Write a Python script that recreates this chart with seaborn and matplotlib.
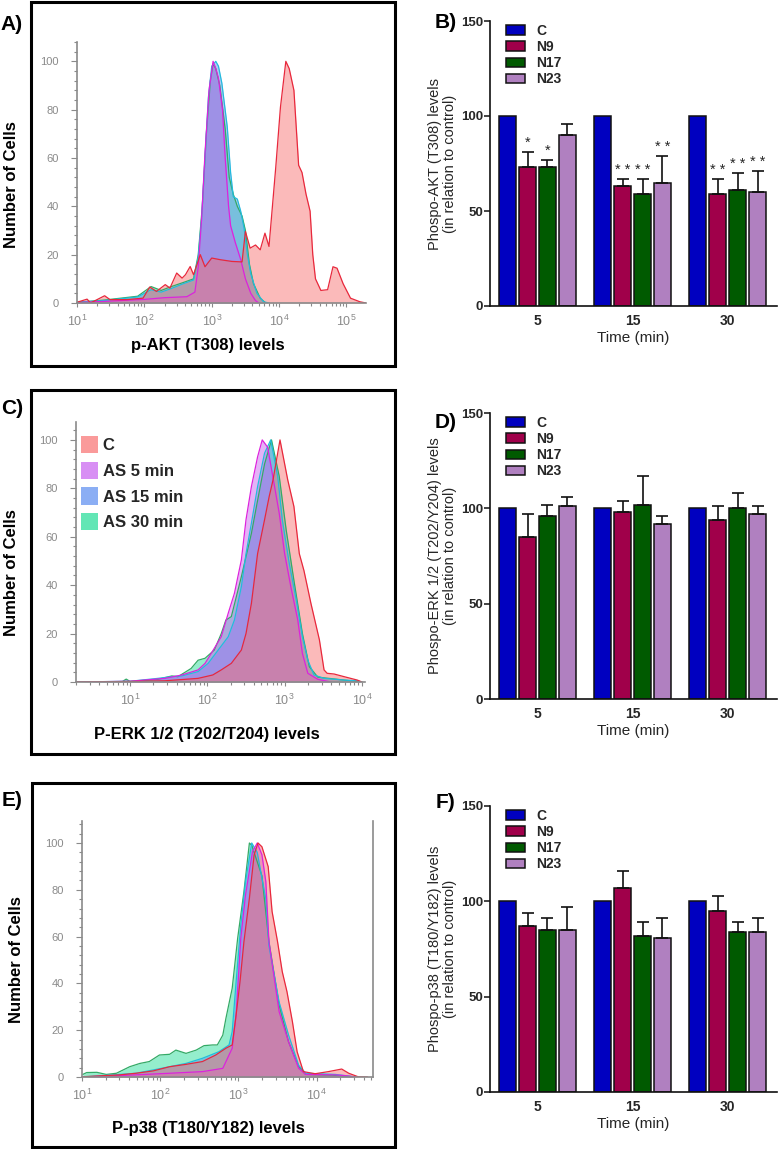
import numpy as np
import pandas as pd
import seaborn as sns
import matplotlib.pyplot as plt
from matplotlib.patches import Patch, Rectangle
from matplotlib.ticker import MultipleLocator, LogLocator, NullFormatter

# ---- histogram data (x = log10 fluorescence, y = % of max) ----
# p-AKT (T308)
akt_c_x = [1.0, 1.15, 1.2, 1.41, 1.49, 1.74, 1.98, 2.08, 2.18, 2.31, 2.38, 2.48, 2.56, 2.61, 2.68, 2.73, 2.83, 2.9, 3.0, 3.13,
           3.3, 3.45, 3.5, 3.57, 3.65, 3.72, 3.79, 3.85, 3.95, 4.02, 4.1, 4.15, 4.22, 4.29, 4.34, 4.4, 4.46, 4.5, 4.54, 4.62,
           4.72, 4.8, 4.86, 4.95, 5.06, 5.2, 5.29]
akt_c_y = [0.3, 1.6, 0, 3, 1.4, 1.4, 2, 6.6, 4.8, 7.6, 6.2, 12.4, 10.3, 11.7, 15.1, 11.7, 20, 15, 18.6, 17.9,
           17.2, 17.0, 29.6, 22.7, 24, 22, 28.9, 23.4, 56, 81, 100, 97, 88, 57, 54, 45, 38, 20, 10, 5.2,
           5.5, 15, 14.4, 8, 2, 0.5, 0]
akt_5_x = [1.0, 1.5, 2.0, 2.3, 2.63, 2.75, 2.8, 2.85, 2.9, 2.96, 3.02, 3.06, 3.1, 3.16, 3.2, 3.25, 3.28, 3.35, 3.43, 3.5, 3.58, 3.65, 3.7]
akt_5_y = [0.2, 0.8, 1.5, 2.2, 2.6, 4.5, 15, 35, 62, 88, 100, 97, 93, 80, 60, 40, 32, 25, 18, 10, 4, 1, 0]
akt_15_x = [1.0, 1.4, 1.9, 2.1, 2.25, 2.4, 2.58, 2.73, 2.8, 2.85, 2.9, 2.95, 3.0, 3.06, 3.1, 3.15, 3.23, 3.28, 3.32, 3.38,
            3.43, 3.48, 3.53, 3.58, 3.67, 3.77, 3.85]
akt_15_y = [0.3, 1.0, 2.5, 5.5, 4.5, 6, 8, 9.5, 19, 35, 60, 85, 98, 100, 98, 91, 73, 54, 44, 43,
            38, 31, 20, 12, 4, 0.5, 0]
akt_30_x = [1.0, 1.4, 1.9, 2.1, 2.25, 2.4, 2.58, 2.73, 2.8, 2.86, 2.92, 2.98, 3.02, 3.06, 3.12, 3.2, 3.26, 3.32, 3.38, 3.45,
            3.5, 3.56, 3.62, 3.72, 3.8]
akt_30_y = [0.3, 1.2, 2.8, 6.8, 5.2, 6.8, 8.5, 10, 20, 40, 70, 92, 99, 97, 90, 72, 52, 45, 40, 36,
            30, 16, 8, 2, 0]

# P-ERK 1/2 (T202/T204)
erk_c_x = [0.3, 1.0, 1.45, 1.88, 2.07, 2.18, 2.31, 2.44, 2.5, 2.57, 2.65, 2.74, 2.8, 2.85, 2.94, 3.04, 3.12, 3.19, 3.25, 3.34,
           3.45, 3.51, 3.55, 3.64, 3.77, 3.94, 4.0]
erk_c_y = [0, 0.2, 0.5, 1.5, 2.9, 5, 7.7, 13.2, 20, 32.5, 53, 67, 76.6, 83.5, 100, 83.5, 72.5, 53, 46, 32.5,
           17.4, 5, 3.6, 3.3, 2.2, 0.8, 0]
erk_5_x = [0.3, 1.0, 1.45, 1.67, 1.88, 1.97, 2.05, 2.18, 2.27, 2.35, 2.44, 2.5, 2.57, 2.65, 2.71, 2.78, 2.87, 2.93, 3.0, 3.08,
           3.17, 3.23, 3.3, 3.43, 3.6]
erk_5_y = [0, 0.3, 1.5, 2.9, 5, 7.7, 11.8, 18.7, 28.4, 36.6, 50.4, 67, 80.7, 93, 100, 97, 80.7, 69.7, 53, 39.4,
           25.6, 11.8, 3.6, 1.1, 0]
erk_15_x = [0.3, 1.0, 1.36, 1.54, 1.67, 1.88, 2.01, 2.14, 2.27, 2.35, 2.44, 2.5, 2.57, 2.65, 2.74, 2.82, 2.91, 2.97, 3.06, 3.15,
            3.23, 3.3, 3.38, 3.51, 3.77, 3.94, 4.0]
erk_15_y = [0, 0.3, 1.5, 2.2, 2.5, 4.3, 7.7, 13.2, 18.7, 25.6, 39.4, 53, 65.6, 80.7, 94.5, 100, 85, 67, 49, 34,
            18.7, 9, 2.9, 1.5, 0.8, 0.5, 0]
erk_30_x = [0.3, 0.9, 0.95, 1.0, 1.36, 1.54, 1.62, 1.79, 1.88, 1.97, 2.09, 2.18, 2.24, 2.31, 2.44, 2.57, 2.65, 2.74, 2.83, 2.93,
            3.02, 3.12, 3.23, 3.32, 3.43, 3.77, 3.98]
erk_30_y = [0, 0.2, 1.2, 0.2, 1.1, 2.5, 2.2, 5.6, 9, 9.8, 13.2, 20, 25.6, 27, 43.5, 61.4, 75, 90, 100, 85,
            62.8, 42, 20, 6.3, 2, 0.8, 0]

# P-p38 (T180/Y182)
p38_c_x = [1.0, 1.48, 1.69, 1.91, 2.12, 2.33, 2.54, 2.71, 2.84, 2.92, 2.97, 3.02, 3.07, 3.14, 3.2, 3.25, 3.3, 3.38, 3.43, 3.5,
           3.56, 3.62, 3.69, 3.75, 3.83, 3.98, 4.15, 4.32, 4.41, 4.53, 4.65]
p38_c_y = [0.1, 0.9, 1.6, 2.6, 4.4, 5.4, 6.6, 9.4, 12.3, 13.7, 26.5, 40.7, 57.8, 76.4, 94.9, 100, 98.4, 89.9, 70.7, 57.8,
           45, 36.5, 23.6, 10.8, 2.3, 1.4, 2.3, 3.4, 1.6, 0.1, 0]
p38_5_x = [1.0, 1.48, 2.12, 2.54, 2.8, 2.92, 2.97, 3.03, 3.09, 3.18, 3.24, 3.3, 3.35, 3.39, 3.52, 3.64, 3.77, 3.86, 4.24, 4.36, 4.5]
p38_5_y = [0, 0.6, 1.6, 2.3, 3.7, 12.3, 26.5, 59.3, 77.8, 96.3, 100, 95, 83.5, 57.8, 27.9, 15.1, 3.7, 1.1, 0.9, 0.6, 0]
p38_15_x = [1.0, 1.69, 1.91, 2.12, 2.33, 2.54, 2.75, 2.88, 2.92, 2.97, 3.03, 3.09, 3.17, 3.24, 3.35, 3.39, 3.52, 3.64, 3.77, 3.86,
            4.24, 4.5]
p38_15_y = [0, 1.6, 3, 4.4, 5.8, 8, 10.8, 13.7, 19.4, 40.7, 65, 83.5, 100, 96, 76, 56, 32, 18, 5, 1.6,
            1.1, 0]
p38_30_x = [1.01, 1.06, 1.19, 1.31, 1.44, 1.61, 1.74, 1.86, 1.99, 2.12, 2.2, 2.33, 2.46, 2.56, 2.67, 2.73, 2.8, 2.84, 2.92, 2.99,
            3.07, 3.14, 3.17, 3.3, 3.39, 3.52, 3.64, 3.77, 3.86, 4.2, 4.5]
p38_30_y = [1.1, 1.9, 2, 1.1, 1.6, 4.4, 5.8, 6.6, 9.4, 9.7, 11.5, 10.1, 11.5, 13.4, 13.7, 13.7, 17.9, 25.1, 37.9, 59.3,
            79.2, 100, 99, 86, 57.8, 30.8, 15.1, 4.4, 1.1, 0.8, 0]

hist_labels = ['C', 'AS 5 min', 'AS 15 min', 'AS 30 min']

# ---- bar data (% of control) ----
times = ['5', '15', '30']
groups = ['C', 'N9', 'N17', 'N23']

akt_mean = {'C': [100, 100, 100], 'N9': [73, 63, 59], 'N17': [73, 59, 61], 'N23': [90, 65, 60]}
akt_err = {'C': [0, 0, 0], 'N9': [8, 4, 8], 'N17': [4, 8, 9], 'N23': [6, 14, 11]}
akt_stars = {'C': ['', '', ''], 'N9': ['*', '* *', '* *'], 'N17': ['*', '* *', '* *'], 'N23': ['', '* *', '* *']}

erk_mean = {'C': [100, 100, 100], 'N9': [85, 98, 94], 'N17': [96, 102, 100], 'N23': [101, 92, 97]}
erk_err = {'C': [0, 0, 0], 'N9': [12, 6, 7], 'N17': [6, 15, 8], 'N23': [5, 4, 4]}

p38_mean = {'C': [100, 100, 100], 'N9': [87, 107, 95], 'N17': [85, 82, 84], 'N23': [85, 81, 84]}
p38_err = {'C': [0, 0, 0], 'N9': [7, 9, 8], 'N17': [6, 7, 5], 'N23': [12, 10, 7]}

# ---- styling ----
hist_fill = ['#F87070', '#C860F0', '#5A8CF0', '#20DC96']
hist_edge = ['#E8283C', '#DD22DD', '#22BBDD', '#33AA66']
bar_colors = ['#0000C0', '#A0004A', '#005A00', '#B080C0']
grey = '#8a8a8a'

sns.set_theme(style='white')
plt.rcParams['font.family'] = ['Liberation Sans', 'DejaVu Sans']
plt.rcParams['mathtext.fontset'] = 'custom'
plt.rcParams['mathtext.rm'] = 'Liberation Sans'
plt.rcParams['mathtext.it'] = 'Liberation Sans:italic'
plt.rcParams['mathtext.bf'] = 'Liberation Sans:bold'

W, H = 778, 1149
fig = plt.figure(figsize=(W / 100, H / 100), dpi=100)


def px_box(l, t, r, b):
    return [l / W, 1 - b / H, (r - l) / W, (b - t) / H]


def px_text(x, y, s, **kw):
    fig.text(x / W, 1 - y / H, s, ha='center', va='center', **kw)


def draw_hist(rect, curves, xlim, ymax, right_spine=False, legend=False):
    ax = fig.add_axes(px_box(*rect))
    order = [3, 2, 1, 0]  # green at back, control red on top
    for i in order:
        lx, ly = curves[i]
        x = 10 ** np.array(lx)
        ax.fill_between(x, ly, color=hist_fill[i], alpha=0.48, lw=0)
        sns.lineplot(x=x, y=ly, ax=ax, color=hist_edge[i], lw=0.9, sort=False, estimator=None)
    ax.set_xscale('log')
    ax.set_xlim(*xlim)
    ax.set_ylim(0, ymax)
    ax.set_yticks([0, 20, 40, 60, 80, 100])
    ax.yaxis.set_minor_locator(MultipleLocator(4))
    ax.xaxis.set_major_locator(LogLocator(base=10, numticks=10))
    ax.xaxis.set_minor_locator(LogLocator(base=10, subs=np.arange(2, 10), numticks=20))
    ax.xaxis.set_minor_formatter(NullFormatter())
    ax.tick_params(axis='both', which='both', bottom=True, left=True, direction='out',
                   color=grey, labelcolor=grey, labelsize=8, width=0.8)
    ax.tick_params(axis='x', which='major', labelsize=9)
    ax.tick_params(axis='y', which='major', length=4, pad=9)
    ax.tick_params(axis='y', which='minor', length=2)
    ax.tick_params(axis='x', which='major', length=3, pad=5)
    ax.tick_params(axis='x', which='minor', length=2)
    for side in ['left', 'bottom', 'right']:
        ax.spines[side].set_color(grey)
        ax.spines[side].set_linewidth(1.2)
    ax.spines['top'].set_visible(False)
    ax.spines['right'].set_visible(right_spine)
    ax.set_xlabel('')
    ax.set_ylabel('')
    ax.patch.set_alpha(0)
    if legend:
        handles = [Patch(facecolor=c, alpha=0.7, edgecolor='none') for c in hist_fill]
        ax.legend(handles, hist_labels, loc='upper left', bbox_to_anchor=(0.017, 0.947), frameon=False,
                  prop={'weight': 'bold', 'size': 12}, handlelength=1.0, handleheight=1.2,
                  labelspacing=0.52, handletextpad=0.3, borderpad=0, borderaxespad=0)
    return ax


def draw_bars(rect, mean, err, ylabel, stars=None):
    ax = fig.add_axes(px_box(*rect))
    rows = []
    for g in groups:
        for t, v in zip(times, mean[g]):
            rows.append({'time': t, 'group': g, 'value': v})
    df = pd.DataFrame(rows)
    sns.barplot(data=df, x='time', y='value', hue='group', order=times, hue_order=groups,
                palette=bar_colors, saturation=1, errorbar=None, edgecolor='#111111', linewidth=1.1,
                width=0.84, gap=0.14, ax=ax)
    for cont, g in zip(ax.containers, groups):
        for j, bar in enumerate(cont):
            cx = bar.get_x() + bar.get_width() / 2
            v, e = mean[g][j], err[g][j]
            if e > 0:
                ax.errorbar(cx, v, yerr=[[0], [e]], fmt='none', ecolor='#111111',
                            elinewidth=1.2, capsize=4, capthick=1.2)
            if stars and stars[g][j]:
                ax.text(cx, v + e + 1.0, stars[g][j], ha='center', va='bottom', fontsize=10.5)
    ax.set_ylim(0, 150)
    ax.set_xlim(-0.5, 2.52)
    ax.set_yticks([0, 50, 100, 150])
    ax.tick_params(axis='y', left=True, length=4, width=1.1, pad=1, color='#111111', labelsize=9.5)
    ax.tick_params(axis='x', bottom=False, length=0, pad=6, labelsize=10)
    for lab in ax.get_xticklabels() + ax.get_yticklabels():
        lab.set_fontweight('bold')
    sns.despine(ax=ax)
    for side in ['left', 'bottom']:
        ax.spines[side].set_color('#111111')
        ax.spines[side].set_linewidth(1.2)
    ax.set_xlabel('Time (min)', fontsize=11, labelpad=2)
    ax.set_ylabel(ylabel, fontsize=10.5, labelpad=3, linespacing=1.05)
    ax.legend(loc='upper left', bbox_to_anchor=(0.056, 0.99), frameon=False,
              prop={'weight': 'bold', 'size': 10}, handlelength=1.37, handleheight=0.65,
              labelspacing=0.15, handletextpad=0.8, borderpad=0, borderaxespad=0)
    ax.patch.set_alpha(0)
    return ax


# ---- frames around the histogram panels ----
for l, t, r, b in [(31, 2, 395, 366), (31, 390, 395, 754), (32, 783, 395, 1147)]:
    fig.add_artist(Rectangle((l / W, 1 - b / H), (r - l) / W, (b - t) / H, fill=False,
                             edgecolor='black', lw=2.2, transform=fig.transFigure))

# ---- histograms ----
draw_hist((77, 42, 366, 303),
          [(akt_c_x, akt_c_y), (akt_5_x, akt_5_y), (akt_15_x, akt_15_y), (akt_30_x, akt_30_y)],
          (10, 10 ** 5.29), 108)
draw_hist((76, 422, 365, 682),
          [(erk_c_x, erk_c_y), (erk_5_x, erk_5_y), (erk_15_x, erk_15_y), (erk_30_x, erk_30_y)],
          (10 ** 0.3, 10 ** 4.04), 107.4, legend=True)
draw_hist((82, 821, 373, 1077),
          [(p38_c_x, p38_c_y), (p38_5_x, p38_5_y), (p38_15_x, p38_15_y), (p38_30_x, p38_30_y)],
          (10, 10 ** 4.72), 109.4, right_spine=True)

# ---- bar charts ----
draw_bars((490, 21, 777, 306), akt_mean, akt_err,
          'Phospo-AKT (T308) levels\n(in relation to control)', stars=akt_stars)
draw_bars((490, 413, 777, 699), erk_mean, erk_err,
          'Phospo-ERK 1/2 (T202/Y204) levels\n(in relation to control)')
draw_bars((490, 806, 777, 1092), p38_mean, p38_err,
          'Phospo-p38 (T180/Y182) levels\n(in relation to control)')

# ---- panel letters and histogram axis titles ----
bold = dict(fontweight='bold', color='black')
px_text(12, 24, 'A)', fontsize=15, **bold)
px_text(12, 409, 'C)', fontsize=15, **bold)
px_text(12, 801, 'E)', fontsize=15, **bold)
px_text(446, 22, 'B)', fontsize=15, **bold)
px_text(446, 422, 'D)', fontsize=15, **bold)
px_text(445, 802, 'F)', fontsize=15, **bold)

px_text(12, 185, 'Number of Cells', fontsize=12, rotation=90, **bold)
px_text(12, 573, 'Number of Cells', fontsize=12, rotation=90, **bold)
px_text(17, 960, 'Number of Cells', fontsize=12, rotation=90, **bold)
px_text(208, 345, 'p-AKT (T308) levels', fontsize=12, **bold)
px_text(207, 735, 'P-ERK 1/2 (T202/T204) levels', fontsize=12, **bold)
px_text(208, 1128, 'P-p38 (T180/Y182) levels', fontsize=12, **bold)

fig.savefig('out.png', dpi=100)
